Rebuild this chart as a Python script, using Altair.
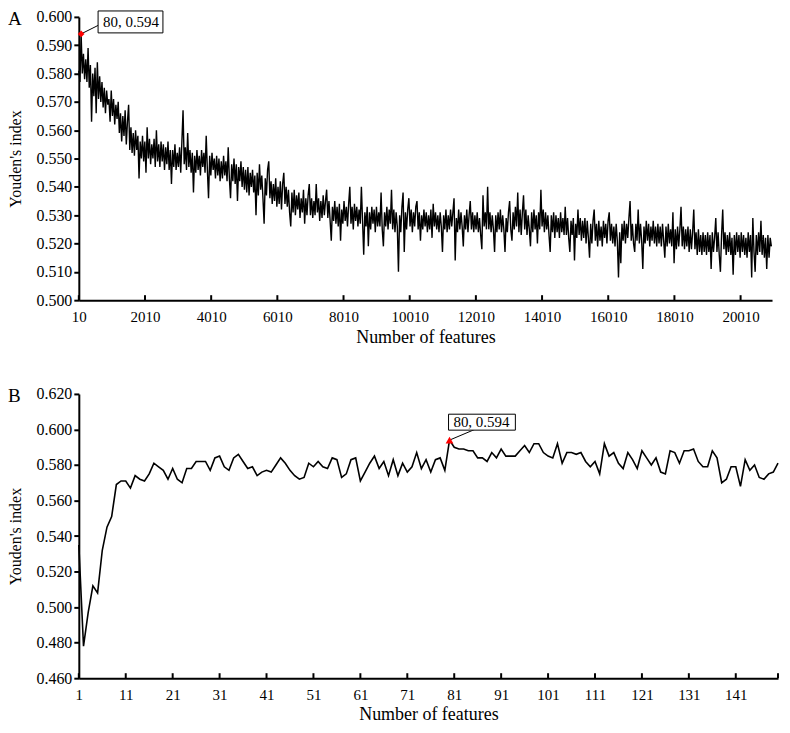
import altair as alt
import pandas as pd

FONT = "Liberation Serif"

# ---------------- Panel A: all feature counts (sampled every 35 features) ----------------
A_START = 10
A_STEP = 35
A_values = [
    0.581,0.577,0.594,0.580,0.587,0.578,0.585,0.577,0.589,0.575,0.583,0.563,0.580,0.572,0.582,0.566,0.584,0.571,0.579,0.570,
    0.577,0.568,0.575,0.566,0.574,0.569,0.571,0.563,0.574,0.565,0.571,0.562,0.569,0.564,0.570,0.559,0.566,0.556,0.565,0.558,
    0.567,0.555,0.563,0.569,0.553,0.561,0.552,0.559,0.551,0.560,0.553,0.558,0.543,0.556,0.550,0.558,0.549,0.556,0.545,0.561,
    0.550,0.557,0.548,0.555,0.550,0.557,0.547,0.560,0.549,0.555,0.547,0.556,0.549,0.555,0.546,0.554,0.548,0.556,0.546,0.553,
    0.541,0.553,0.547,0.555,0.546,0.552,0.547,0.554,0.545,0.556,0.567,0.548,0.554,0.546,0.559,0.547,0.553,0.545,0.552,0.538,
    0.551,0.545,0.553,0.546,0.551,0.544,0.553,0.547,0.552,0.545,0.558,0.546,0.536,0.551,0.544,0.552,0.546,0.550,0.543,0.551,
    0.544,0.550,0.542,0.549,0.543,0.551,0.544,0.549,0.542,0.554,0.543,0.536,0.548,0.542,0.550,0.541,0.548,0.535,0.547,0.542,
    0.549,0.540,0.547,0.539,0.546,0.538,0.547,0.537,0.545,0.540,0.546,0.538,0.544,0.530,0.545,0.537,0.548,0.539,0.544,0.536,
    0.527,0.543,0.537,0.546,0.549,0.536,0.542,0.534,0.541,0.535,0.543,0.533,0.540,0.534,0.542,0.532,0.541,0.545,0.534,0.540,
    0.533,0.539,0.531,0.526,0.538,0.531,0.539,0.530,0.537,0.532,0.538,0.529,0.536,0.531,0.539,0.527,0.536,0.530,0.537,0.541,
    0.530,0.536,0.529,0.535,0.530,0.541,0.531,0.536,0.528,0.535,0.529,0.537,0.530,0.535,0.539,0.529,0.535,0.528,0.521,0.533,
    0.528,0.535,0.527,0.533,0.526,0.534,0.521,0.532,0.527,0.535,0.528,0.533,0.526,0.534,0.540,0.527,0.533,0.525,0.534,0.528,
    0.533,0.526,0.532,0.527,0.540,0.528,0.516,0.531,0.526,0.533,0.519,0.531,0.525,0.533,0.527,0.532,0.524,0.533,0.526,0.531,
    0.526,0.538,0.525,0.519,0.531,0.526,0.533,0.525,0.532,0.527,0.539,0.525,0.532,0.524,0.531,0.526,0.510,0.530,0.524,0.533,
    0.538,0.517,0.531,0.525,0.532,0.536,0.526,0.532,0.524,0.531,0.526,0.533,0.535,0.525,0.531,0.521,0.530,0.525,0.532,0.526,
    0.531,0.524,0.530,0.525,0.532,0.522,0.534,0.526,0.531,0.525,0.530,0.524,0.531,0.526,0.517,0.530,0.525,0.532,0.524,0.530,
    0.525,0.532,0.526,0.531,0.536,0.514,0.529,0.524,0.532,0.525,0.531,0.526,0.519,0.530,0.525,0.532,0.524,0.530,0.535,0.525,
    0.531,0.524,0.530,0.525,0.531,0.524,0.529,0.523,0.518,0.537,0.526,0.531,0.525,0.540,0.525,0.531,0.524,0.530,0.525,0.517,
    0.530,0.524,0.531,0.525,0.532,0.524,0.530,0.525,0.517,0.529,0.524,0.531,0.535,0.525,0.521,0.531,0.525,0.533,0.526,0.538,
    0.524,0.532,0.523,0.531,0.537,0.525,0.532,0.523,0.530,0.525,0.519,0.531,0.524,0.532,0.525,0.530,0.520,0.531,0.525,0.539,
    0.526,0.532,0.524,0.531,0.525,0.530,0.523,0.517,0.530,0.524,0.531,0.522,0.530,0.524,0.529,0.522,0.531,0.524,0.529,0.523,
    0.533,0.523,0.529,0.522,0.517,0.528,0.523,0.529,0.514,0.527,0.522,0.532,0.523,0.529,0.521,0.528,0.522,0.529,0.520,0.528,
    0.522,0.515,0.527,0.520,0.528,0.532,0.521,0.527,0.519,0.528,0.521,0.526,0.519,0.528,0.522,0.527,0.520,0.528,0.531,0.521,
    0.527,0.520,0.526,0.519,0.527,0.521,0.508,0.524,0.513,0.527,0.521,0.528,0.520,0.527,0.522,0.529,0.535,0.521,0.527,0.520,
    0.517,0.527,0.521,0.532,0.520,0.527,0.521,0.511,0.526,0.520,0.528,0.521,0.527,0.519,0.526,0.521,0.528,0.520,0.526,0.519,
    0.527,0.520,0.526,0.519,0.527,0.521,0.515,0.526,0.519,0.527,0.520,0.525,0.519,0.531,0.513,0.525,0.518,0.526,0.519,0.525,
    0.533,0.519,0.526,0.518,0.525,0.519,0.526,0.517,0.525,0.518,0.524,0.532,0.518,0.524,0.516,0.525,0.517,0.523,0.516,0.524,
    0.517,0.523,0.516,0.524,0.517,0.523,0.511,0.524,0.517,0.522,0.529,0.517,0.524,0.516,0.510,0.523,0.532,0.518,0.524,0.516,
    0.523,0.517,0.524,0.516,0.522,0.509,0.523,0.516,0.524,0.517,0.523,0.515,0.524,0.517,0.523,0.516,0.522,0.515,0.524,0.517,
    0.523,0.508,0.529,0.517,0.510,0.523,0.516,0.524,0.517,0.528,0.516,0.523,0.515,0.522,0.511,0.523,0.515,0.522,0.519,
]
A_features = [A_START + A_STEP * i for i in range(len(A_values))]
A_xdomain = [10, 20960]
A_ydomain = [0.50, 0.60]
A_xticks = [10, 2010, 4010, 6010, 8010, 10010, 12010, 14010, 16010, 18010, 20010]
A_yticks = [0.50, 0.51, 0.52, 0.53, 0.54, 0.55, 0.56, 0.57, 0.58, 0.59, 0.60]

# ---------------- Panel B: first 150 features ----------------
B_values = [
    0.535,0.478,0.497,0.512,0.508,0.532,0.545,0.551,0.569,0.571,
    0.571,0.567,0.574,0.572,0.571,0.575,0.581,0.579,0.577,0.572,
    0.578,0.572,0.570,0.578,0.578,0.582,0.582,0.582,0.577,0.584,
    0.585,0.579,0.577,0.584,0.586,0.582,0.578,0.579,0.574,0.576,
    0.577,0.576,0.580,0.584,0.581,0.577,0.574,0.572,0.573,0.581,
    0.579,0.582,0.579,0.578,0.584,0.583,0.573,0.575,0.583,0.584,
    0.571,0.576,0.581,0.585,0.578,0.582,0.574,0.583,0.574,0.581,
    0.576,0.579,0.587,0.578,0.583,0.576,0.583,0.584,0.577,0.594,
    0.590,0.589,0.589,0.588,0.588,0.584,0.584,0.582,0.587,0.584,
    0.589,0.585,0.585,0.585,0.588,0.591,0.587,0.592,0.592,0.587,
    0.585,0.584,0.592,0.581,0.587,0.587,0.586,0.587,0.582,0.579,
    0.582,0.575,0.592,0.585,0.587,0.581,0.578,0.587,0.583,0.578,
    0.588,0.584,0.580,0.584,0.576,0.575,0.588,0.587,0.581,0.588,
    0.588,0.589,0.582,0.579,0.579,0.588,0.584,0.570,0.572,0.579,
    0.579,0.568,0.583,0.577,0.580,0.573,0.572,0.575,0.576,0.581,
]
B_features = list(range(1, len(B_values) + 1))
B_xdomain = [1, 150]
B_ydomain = [0.46, 0.62]
B_xticks = [1, 11, 21, 31, 41, 51, 61, 71, 81, 91, 101, 111, 121, 131, 141]
B_yticks = [0.46, 0.48, 0.50, 0.52, 0.54, 0.56, 0.58, 0.60, 0.62]

best_feature = 80
best_value = 0.594
best_label = "80, 0.594"


def panel(features, values, xdom, ydom, xticks, tick_marks, yticks, width, height, letter,
          shape, msize, box, lead, text_d, line_w, label_pad, title_pad):
    df = pd.DataFrame({"features": features, "youden": values})
    peak = pd.DataFrame({"features": [best_feature], "youden": [best_value], "label": [best_label]})
    xs = alt.Scale(domain=xdom, nice=False, zero=False)
    ys = alt.Scale(domain=ydom, nice=False, zero=False)

    x_axis = alt.Axis(values=xticks, format="d", ticks=False, labelPadding=label_pad,
                      labelOverlap=False, labelFlush=False,
                      title="Number of features", titlePadding=title_pad)
    y_axis = alt.Axis(values=yticks, format=".3f", title="Youden's index",
                      labelOverlap=False, labelFlush=False, tickCount=len(yticks))
    X = alt.X("features:Q", scale=xs, axis=x_axis)
    Y = alt.Y("youden:Q", scale=ys, axis=y_axis)

    line = alt.Chart(df).mark_line(color="black", strokeWidth=line_w).encode(x=X, y=Y)

    tick_df = pd.DataFrame({"features": tick_marks, "youden": [ydom[0]] * len(tick_marks)})
    inner_ticks = alt.Chart(tick_df).mark_rule(color="black", strokeWidth=2, y2Offset=-5).encode(
        x=X, y=Y, y2="youden:Q",
    )

    leader = alt.Chart(peak).mark_rule(color="black", strokeWidth=1,
                                       x2Offset=lead[0], y2Offset=lead[1]).encode(
        x=X, x2="features:Q", y=Y, y2="youden:Q",
    )

    rect = alt.Chart(peak).mark_rect(fill="white", stroke="black", strokeWidth=1,
                                     xOffset=box[0], x2Offset=box[1],
                                     yOffset=box[2], y2Offset=box[3]).encode(
        x=X, x2="features:Q", y=Y, y2="youden:Q",
    )

    text = alt.Chart(peak).mark_text(font=FONT, fontSize=15, color="black",
                                     dx=text_d[0], dy=text_d[1],
                                     align="center", baseline="middle").encode(
        x=X, y=Y, text="label:N",
    )

    marker = alt.Chart(peak).mark_point(shape=shape, filled=True, color="#ff0000",
                                        size=msize, opacity=1).encode(x=X, y=Y)

    letter_mark = alt.Chart(peak).mark_text(font=FONT, fontSize=19, color="black",
                                            align="left", baseline="top", text=letter).encode(
        x=alt.value(-71),
        y=alt.value(-7),
    )

    return alt.layer(line, inner_ticks, leader, rect, text, marker, letter_mark).properties(
        width=width, height=height)


panelA = panel(A_features, A_values, A_xdomain, A_ydomain, A_xticks, A_xticks, A_yticks, 695, 284, "A",
               "diamond", 45, (17, 82, -23, -1), (18, -9), (50, -12), 1.4, 9, 4)
panelB = panel(B_features, B_values, B_xdomain, B_ydomain, B_xticks, B_xticks + [150], B_yticks, 701, 285, "B",
               "triangle-up", 60, (-1, 66, -26, -10), (26, -11), (32, -18), 1.6, 9, 3)

chart = alt.vconcat(panelA, panelB, spacing=40).properties(
    padding={"left": 0, "top": 0, "right": 0, "bottom": 0}
).configure_view(stroke=None).configure_axis(
    grid=False,
    labelFont=FONT, titleFont=FONT,
    labelColor="black", titleColor="black",
    domainColor="black", domainWidth=2,
    tickColor="black", tickWidth=2, tickSize=5,
    titleFontWeight="normal",
).configure_axisY(
    labelFontSize=16, titleFontSize=16, labelPadding=2, titlePadding=12,
).configure_axisX(
    labelFontSize=15, titleFontSize=18,
)

chart.save("out.html", embed_options={"renderer": "svg", "actions": False})
